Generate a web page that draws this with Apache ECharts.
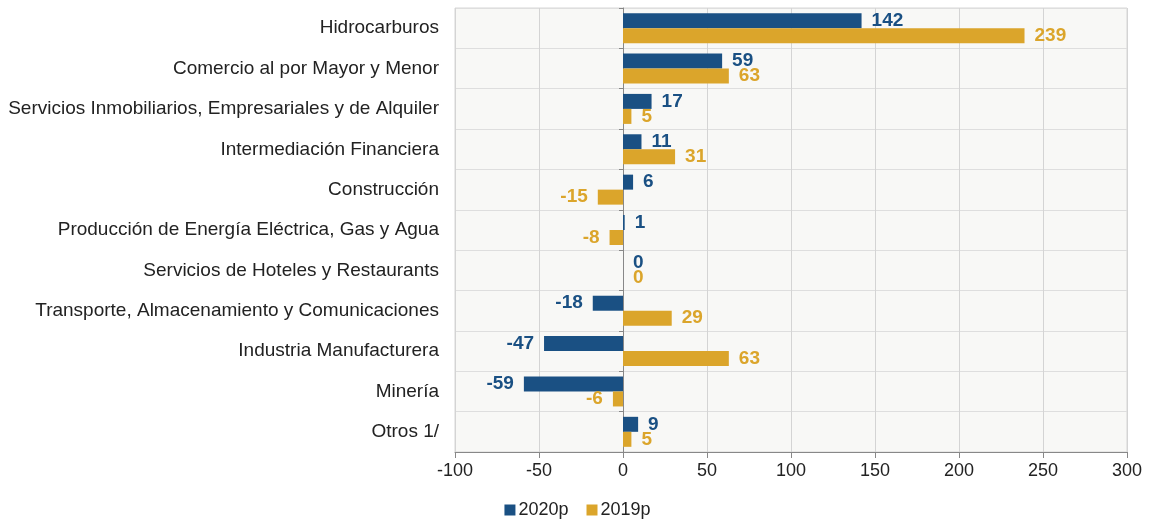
<!DOCTYPE html>
<html>
<head>
<meta charset="utf-8">
<script src="https://cdn.jsdelivr.net/npm/echarts@6/dist/echarts.min.js"></script>
<style>
  html, body { margin: 0; padding: 0; background: #fff; }
  #chart { width: 1155px; height: 520px; }
</style>
</head>
<body>
<div id="chart"></div>
<script>
var categories = ['Hidrocarburos', 'Comercio al por Mayor y Menor',
  'Servicios Inmobiliarios, Empresariales y de Alquiler', 'Intermediación Financiera',
  'Construcción', 'Producción de Energía Eléctrica, Gas y Agua',
  'Servicios de Hoteles y Restaurants', 'Transporte, Almacenamiento y Comunicaciones',
  'Industria Manufacturera', 'Minería', 'Otros 1/'];
var values2020 = [142, 59, 17, 11, 6, 1, 0, -18, -47, -59, 9];
var values2019 = [239, 63, 5, 31, -15, -8, 0, 29, 63, -6, 5];
var xTicks = [-100, -50, 0, 50, 100, 150, 200, 250, 300];

var blue = '#1a5083';
var gold = '#dba52b';
var font = 'Liberation Sans, Arial, sans-serif';

function toItems(arr) {
  return arr.map(function (v) {
    return { value: v, label: { position: v < 0 ? 'left' : 'right' } };
  });
}

function makeSeries(name, arr, color) {
  return {
    name: name,
    type: 'bar',
    data: toItems(arr),
    barWidth: 15,
    barGap: '0%',
    itemStyle: { color: color },
    label: {
      show: true,
      distance: 10,
      color: color,
      fontWeight: 'bold',
      fontSize: 19,
      fontFamily: font
    }
  };
}

var chart = echarts.init(document.getElementById('chart'));
chart.setOption({
  animation: false,
  textStyle: { fontFamily: font },
  grid: {
    left: 455, right: 28, top: 8, bottom: 68,
    show: true, backgroundColor: '#f8f8f6', borderColor: '#d6d6d6', borderWidth: 1
  },
  legend: {
    top: 496, left: 'center',
    itemWidth: 11, itemHeight: 11, itemGap: 18, icon: 'rect',
    textStyle: { fontSize: 18, color: '#222', fontFamily: font, padding: [0, 0, 0, -2] },
    data: ['2020p', '2019p']
  },
  xAxis: {
    type: 'value', min: -100, max: 300, interval: 50,
    axisLine: { show: true, onZero: false, lineStyle: { color: '#888' } },
    axisTick: { show: true, length: 6, lineStyle: { color: '#888' } },
    axisLabel: {
      fontSize: 18, color: '#222', margin: 10,
      formatter: function (v) { return xTicks.indexOf(v) >= 0 ? String(v) : ''; }
    },
    splitLine: { show: true, lineStyle: { color: '#d4d4d4' } }
  },
  yAxis: [{
    type: 'category', inverse: true, data: categories,
    axisLine: { show: false, onZero: false },
    axisTick: { show: false },
    axisLabel: { fontSize: 19, color: '#222', margin: 16 },
    splitLine: { show: true, lineStyle: { color: '#dedede' } }
  }, {
    type: 'category', inverse: true, data: categories, position: 'right',
    axisLine: { show: true, onZero: true, lineStyle: { color: '#888' } },
    axisTick: { show: true, inside: true, length: 4, lineStyle: { color: '#888' } },
    axisLabel: { show: false },
    splitLine: { show: false }
  }],
  series: [
    makeSeries('2020p', values2020, blue),
    makeSeries('2019p', values2019, gold)
  ]
});
</script>
</body>
</html>
